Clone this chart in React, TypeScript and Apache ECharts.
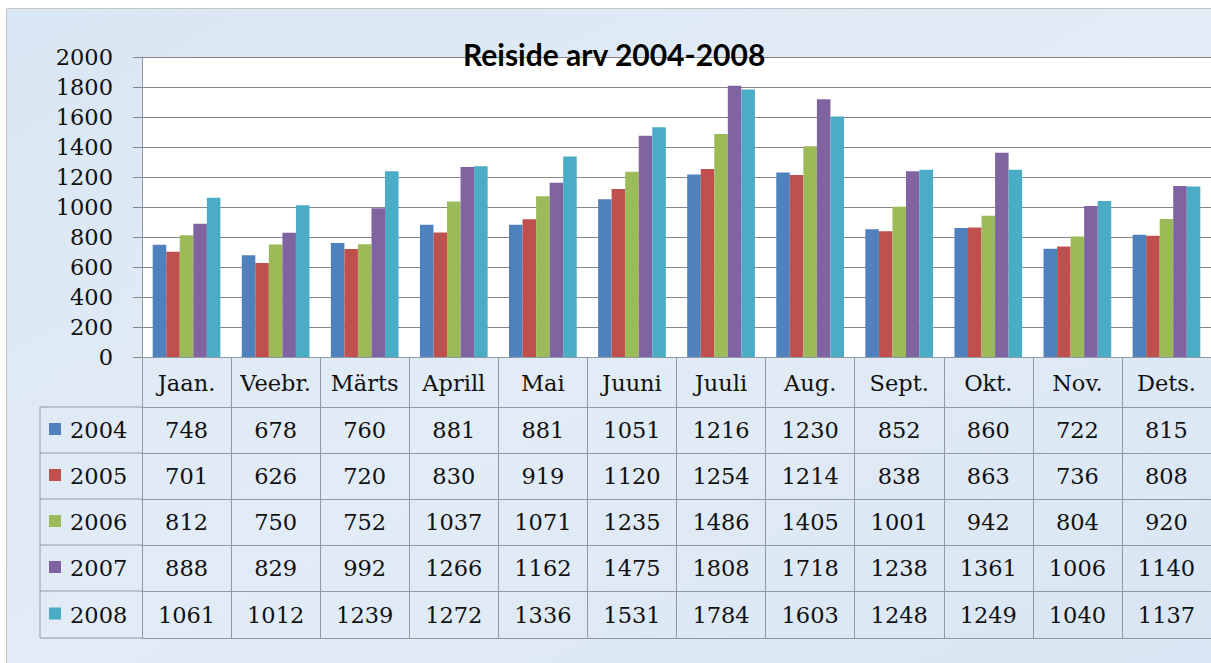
import React, { useEffect, useRef } from "react";
import * as echarts from "echarts";

const months = ["Jaan.", "Veebr.", "Märts", "Aprill", "Mai", "Juuni", "Juuli", "Aug.", "Sept.", "Okt.", "Nov.", "Dets."];
const years = ["2004", "2005", "2006", "2007", "2008"];
const v2004 = [748, 678, 760, 881, 881, 1051, 1216, 1230, 852, 860, 722, 815];
const v2005 = [701, 626, 720, 830, 919, 1120, 1254, 1214, 838, 863, 736, 808];
const v2006 = [812, 750, 752, 1037, 1071, 1235, 1486, 1405, 1001, 942, 804, 920];
const v2007 = [888, 829, 992, 1266, 1162, 1475, 1808, 1718, 1238, 1361, 1006, 1140];
const v2008 = [1061, 1012, 1239, 1272, 1336, 1531, 1784, 1603, 1248, 1249, 1040, 1137];
const seriesValues = [v2004, v2005, v2006, v2007, v2008];
const colors = ["#4F81BD", "#C0504D", "#9BBB59", "#8064A2", "#4BACC6"];
const yTicks = { min: 0, max: 2000, interval: 200 };
const title = "Reiside arv 2004-2008";

const SERIF = "DejaVu Serif";
const FS = 22.5;
const LINE = "#8f9aa6";

export default function App() {
  const ref = useRef<HTMLDivElement>(null);
  useEffect(() => {
    if (!ref.current) return;
    const chart = echarts.init(ref.current, undefined, { renderer: "svg" });
    const plotBottom = 357;
    const headerH = 50;
    const rowTops = [407, 453, 499, 545, 591, 638];

    const xAxes: any[] = [
      {
        type: "category",
        data: months,
        position: "bottom",
        axisLine: { show: true, lineStyle: { color: LINE, width: 1 } },
        axisTick: { show: true, alignWithLabel: false, length: headerH, interval: 0, lineStyle: { color: LINE } },
        axisLabel: { interval: 0, margin: 26, verticalAlign: "middle", fontFamily: SERIF, fontSize: FS, color: "#111" },
      },
    ];
    seriesValues.forEach((vals, i) => {
      const h = rowTops[i + 1] - rowTops[i];
      xAxes.push({
        type: "category",
        data: months,
        position: "bottom",
        offset: rowTops[i] - plotBottom,
        axisLine: { show: true, lineStyle: { color: LINE, width: 1 } },
        axisTick: { show: true, alignWithLabel: false, length: h, interval: 0, lineStyle: { color: LINE } },
        axisLabel: {
          interval: 0,
          margin: h / 2,
          verticalAlign: "middle",
          fontFamily: SERIF,
          fontSize: FS,
          color: "#111",
          formatter: (_v: string, idx: number) => String(vals[idx]),
        },
      });
    });
    xAxes.push({
      type: "category",
      data: months,
      position: "bottom",
      offset: rowTops[5] - plotBottom,
      axisLine: { show: true, lineStyle: { color: LINE, width: 1 } },
      axisTick: { show: false },
      axisLabel: { show: false },
    });

    const graphics: any[] = [
      {
        type: "rect",
        z: -10,
        shape: { x: 6.5, y: 8.5, width: 1220, height: 670 },
        style: {
          fill: new echarts.graphic.LinearGradient(0, 0, 1, 1, [
            { offset: 0, color: "#d9e6f3" },
            { offset: 0.5, color: "#e2ecf6" },
            { offset: 1, color: "#d8e5f2" },
          ]),
          stroke: "#c4c4c4",
          lineWidth: 1,
        },
      },
      { type: "line", shape: { x1: 40, y1: rowTops[0], x2: 40, y2: rowTops[5] }, style: { stroke: LINE, lineWidth: 1 } },
    ];
    rowTops.forEach((y) => {
      graphics.push({ type: "line", shape: { x1: 40, y1: y, x2: 142, y2: y }, style: { stroke: LINE, lineWidth: 1 } });
    });
    years.forEach((yr, i) => {
      const cy = (rowTops[i] + rowTops[i + 1]) / 2;
      graphics.push({ type: "rect", shape: { x: 49, y: cy - 7, width: 12, height: 12 }, style: { fill: colors[i] } });
      graphics.push({
        type: "text",
        x: 70,
        y: cy,
        style: { text: yr, fontFamily: SERIF, fontSize: FS, fill: "#111", textVerticalAlign: "middle", textAlign: "left" },
      });
    });

    chart.setOption({
      animation: false,
      backgroundColor: "#ffffff",
      title: {
        text: title,
        left: 458,
        top: 34,
        textStyle: { fontFamily: "Lato", fontWeight: "bold", fontSize: 30, color: "#000" },
      },
      grid: {
        left: 142,
        right: 0,
        top: 57,
        bottom: 663 - plotBottom,
        show: true,
        backgroundColor: "#ffffff",
        borderWidth: 0,
      },
      xAxis: xAxes,
      yAxis: {
        type: "value",
        min: yTicks.min,
        max: yTicks.max,
        interval: yTicks.interval,
        axisLine: { show: true, lineStyle: { color: LINE } },
        axisTick: { show: true, length: 9, lineStyle: { color: "#868686" } },
        splitLine: { show: true, lineStyle: { color: "#868686", width: 1 } },
        axisLabel: {
          margin: 29,
          fontFamily: SERIF,
          fontSize: FS,
          color: "#111",
          formatter: (v: number) => String(v),
        },
      },
      series: seriesValues.map((vals, i) => ({
        name: years[i],
        type: "bar",
        xAxisIndex: 0,
        data: vals,
        barGap: "0%",
        barCategoryGap: "24%",
        itemStyle: { color: colors[i] },
      })),
      graphic: graphics,
    });
    return () => chart.dispose();
  }, []);
  return <div ref={ref} style={{ position: "fixed", left: 0, top: 0, width: 1211, height: 663 }} />;
}
